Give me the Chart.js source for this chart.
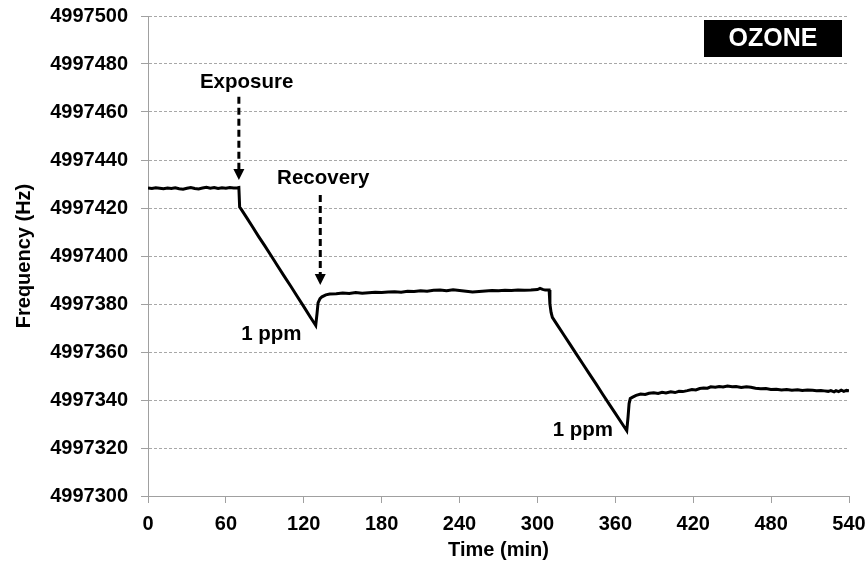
<!DOCTYPE html>
<html>
<head>
<meta charset="utf-8">
<script src="https://cdn.jsdelivr.net/npm/chart.js@4.4.1/dist/chart.umd.min.js"></script>
<style>
  html, body { margin: 0; padding: 0; background: #fff; }
  canvas { display: block; }
</style>
</head>
<body>
<canvas id="c" width="866" height="565"></canvas>
<script>
// ---- Data ----
const timeMin = [
  0, 3, 6, 9, 12, 15, 18, 21, 24, 27, 30, 33, 36, 39, 42, 45, 48, 51, 54, 57, 60, 63, 66, 69, 70.0,
  70.6, 72, 76, 80, 85, 90, 95, 100, 105, 110, 115, 120, 125, 128, 129.2,
  130.2, 131, 132.5, 134, 137, 140, 145, 150, 155, 160, 165, 170, 175, 180, 185, 190, 195, 200,
  205, 210, 215, 220, 225, 230, 235, 240, 245, 250, 255, 260, 265, 270, 275, 280, 285, 290, 295,
  300, 302, 304, 306, 309.0,
  309.6, 310.5, 311.5, 315, 320, 325, 330, 335, 340, 345, 350, 355, 360, 365, 368.8,
  369.8, 370.6, 371.5, 373, 376, 379.5, 383, 386, 389.6, 393, 396, 399, 402.7, 406, 409, 412,
  415.5, 419, 422, 425, 428, 431, 433.5, 437, 440, 443, 446.4, 450, 453, 457, 461, 464.4, 468,
  472, 476, 479.8, 484, 488, 492, 496, 500.4, 504, 508, 512, 515, 518.4, 521, 524, 526, 528.5,
  530, 532, 534, 536, 538, 540
];
const freqHz = [
  4997428.3, 4997428.1, 4997428.4, 4997428.2, 4997428.0, 4997428.3, 4997428.1, 4997428.4, 4997428.0, 4997427.8,
  4997428.2, 4997428.5, 4997428.1, 4997427.9, 4997428.3, 4997428.6, 4997428.2, 4997428.5, 4997428.1, 4997428.4,
  4997428.2, 4997428.5, 4997428.3, 4997428.4, 4997428.5,
  4997420.4, 4997419.3, 4997416.0, 4997412.6, 4997408.3, 4997404.2, 4997400.0, 4997395.7, 4997391.5, 4997387.4,
  4997383.1, 4997378.9, 4997374.6, 4997372.1, 4997371.1,
  4997376.0, 4997380.5, 4997382.2, 4997383.0, 4997383.8, 4997384.2, 4997384.3, 4997384.6, 4997384.4, 4997384.8,
  4997384.5, 4997384.7, 4997384.9, 4997384.8, 4997385.0, 4997385.1, 4997384.9, 4997385.3,
  4997385.2, 4997385.5, 4997385.3, 4997385.7, 4997385.8, 4997385.5, 4997385.9, 4997385.6, 4997385.3, 4997385.0,
  4997385.2, 4997385.4, 4997385.6, 4997385.5, 4997385.7, 4997385.6, 4997385.8, 4997385.7, 4997385.8,
  4997386.0, 4997386.5, 4997386.1, 4997385.8, 4997385.8,
  4997380.0, 4997376.5, 4997374.4, 4997371.5, 4997367.4, 4997363.3, 4997359.1, 4997355.0, 4997350.9, 4997346.8,
  4997342.6, 4997338.5, 4997334.4, 4997330.3, 4997327.2,
  4997333.0, 4997338.5, 4997340.6, 4997341.1, 4997341.9, 4997342.5, 4997342.3, 4997342.8, 4997343.0, 4997342.7,
  4997343.2, 4997342.9, 4997343.4, 4997343.1, 4997343.6, 4997343.5,
  4997343.9, 4997344.4, 4997344.2, 4997344.8, 4997345.0, 4997344.9, 4997345.5, 4997345.3, 4997345.6, 4997345.4,
  4997345.8, 4997345.5, 4997345.6, 4997345.2, 4997345.5, 4997345.3, 4997344.9,
  4997344.7, 4997344.8, 4997344.4, 4997344.5, 4997344.2, 4997344.4, 4997344.1, 4997344.3, 4997344.0, 4997344.2,
  4997344.1, 4997343.9, 4997344.0, 4997343.8, 4997343.6, 4997343.9, 4997343.4,
  4997343.9, 4997343.5, 4997344.1, 4997343.6, 4997344.0, 4997343.8
];

const xTicks = [0, 60, 120, 180, 240, 300, 360, 420, 480, 540];
const yTicks = [4997300, 4997320, 4997340, 4997360, 4997380, 4997400, 4997420, 4997440, 4997460, 4997480, 4997500];

// Annotations (data coordinates)
const labelTexts = ["Exposure", "Recovery", "1 ppm", "1 ppm"];
const labelX = [76, 135, 95, 335];
const labelY = [4997470, 4997430, 4997365, 4997324.8];
const arrowX = [70, 132.7];
const arrowFromY = [4997466.4, 4997425.4];
const arrowToY = [4997431.7, 4997387.9];
const boxLabel = "OZONE";

const FONT = "'Liberation Sans', Arial, Helvetica, sans-serif";

const annotationPlugin = {
  id: 'annotations',
  afterDatasetsDraw(chart) {
    const ctx = chart.ctx;
    const xs = chart.scales.x, ys = chart.scales.y;
    ctx.save();
    ctx.fillStyle = '#000';
    ctx.font = 'bold 20.5px ' + FONT;
    ctx.textAlign = 'center';
    ctx.textBaseline = 'alphabetic';
    for (let i = 0; i < labelTexts.length; i++) {
      ctx.fillText(labelTexts[i], xs.getPixelForValue(labelX[i]), ys.getPixelForValue(labelY[i]));
    }
    for (let i = 0; i < arrowX.length; i++) {
      const px = xs.getPixelForValue(arrowX[i]);
      const y0 = ys.getPixelForValue(arrowFromY[i]);
      const y1 = ys.getPixelForValue(arrowToY[i]);
      const headH = 11, headW = 11;
      ctx.strokeStyle = '#000';
      ctx.lineWidth = 3;
      ctx.setLineDash([7, 4]);
      ctx.beginPath();
      ctx.moveTo(px, y0);
      ctx.lineTo(px, y1 - headH);
      ctx.stroke();
      ctx.setLineDash([]);
      ctx.fillStyle = '#000';
      ctx.beginPath();
      ctx.moveTo(px - headW / 2, y1 - headH);
      ctx.lineTo(px + headW / 2, y1 - headH);
      ctx.lineTo(px, y1);
      ctx.closePath();
      ctx.fill();
    }
    const ca = chart.chartArea;
    const bw = 138, bh = 37;
    const bx = ca.right - 7 - bw, by = ca.top + 4;
    ctx.fillStyle = '#000';
    ctx.fillRect(bx, by, bw, bh);
    ctx.fillStyle = '#fff';
    ctx.font = 'bold 25px ' + FONT;
    ctx.textAlign = 'center';
    ctx.textBaseline = 'middle';
    ctx.fillText(boxLabel, bx + bw / 2, by + bh / 2 + 1);
    ctx.restore();
  }
};

function zeroPad(scale) {
  scale.paddingTop = 0; scale.paddingBottom = 0;
  scale.paddingLeft = 0; scale.paddingRight = 0;
}

new Chart(document.getElementById('c'), {
  type: 'line',
  data: {
    datasets: [{
      data: timeMin.map((t, i) => ({ x: t, y: freqHz[i] })),
      borderColor: '#000',
      borderWidth: 3,
      pointRadius: 0,
      tension: 0,
      fill: false
    }]
  },
  options: {
    responsive: false,
    animation: false,
    devicePixelRatio: 1,
    layout: { padding: { top: 16, right: 17, left: 0, bottom: 0 } },
    plugins: { legend: { display: false }, tooltip: { enabled: false } },
    scales: {
      x: {
        type: 'linear',
        min: 0, max: 540,
        afterBuildTicks(scale) { scale.ticks = xTicks.map(v => ({ value: v })); },
        afterFit(scale) { scale.height = 69; zeroPad(scale); },
        grid: { drawOnChartArea: false, drawTicks: true, tickLength: 7, color: '#a0a0a0' },
        border: { display: true, color: '#a0a0a0', width: 1 },
        ticks: { color: '#000', padding: 9, maxRotation: 0, font: { family: FONT, size: 20, weight: 'bold' } },
        title: { display: true, text: 'Time (min)', color: '#000', padding: { top: 0, bottom: 3 }, font: { family: FONT, size: 20, weight: 'bold' } }
      },
      y: {
        type: 'linear',
        min: 4997300, max: 4997500,
        afterBuildTicks(scale) { scale.ticks = yTicks.map(v => ({ value: v })); },
        afterFit(scale) { scale.width = 148; zeroPad(scale); },
        grid: { color: '#a8a8a8', lineWidth: 1, drawTicks: true, tickLength: 7, tickColor: '#a0a0a0', tickBorderDash: [] },
        border: { display: true, color: '#a0a0a0', width: 1, dash: [3, 2] },
        ticks: { color: '#000', padding: 13, font: { family: FONT, size: 20, weight: 'bold' }, callback: v => String(v) },
        title: { display: true, text: 'Frequency (Hz)', color: '#000', padding: { top: 12, bottom: 0 }, font: { family: FONT, size: 20, weight: 'bold' } }
      }
    }
  },
  plugins: [annotationPlugin]
});
</script>
</body>
</html>
